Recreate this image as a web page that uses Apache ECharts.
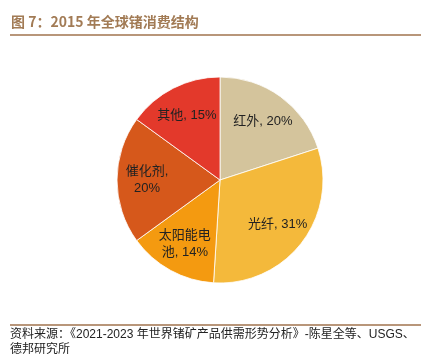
<!DOCTYPE html>
<html>
<head>
<meta charset="utf-8">
<script src="https://cdn.jsdelivr.net/npm/echarts@6/dist/echarts.min.js"></script>
<style>html,body{margin:0;padding:0;background:#fff}#c{width:428px;height:357px}</style>
</head>
<body>
<div id="c"></div>
<script>
const categories = ['红外', '光纤', '太阳能电池', '催化剂', '其他'];
const values = [20, 31, 14, 20, 15];
const colors = ['#D4C49C', '#F4B93B', '#F49A10', '#D6581B', '#E3392B'];
// characters after which the label wraps (0 = no wrap)
const wrapAt = [0, 0, 4, 3, 0];
const titleText = '图 7：2015 年全球锗消费结构';
const sourceLine1 = '资料来源：《2021-2023 年世界锗矿产品供需形势分析》-陈星全等、USGS、';
const sourceLine2 = '德邦研究所';

const data = categories.map((n, i) => ({ name: n, value: values[i], itemStyle: { color: colors[i] } }));

function fmt(p) {
  const i = p.dataIndex;
  const n = categories[i];
  const w = wrapAt[i];
  if (w === 0) return n + ', ' + values[i] + '%';
  if (w >= n.length) return n + ',\n' + values[i] + '%';
  return n.slice(0, w) + '\n' + n.slice(w) + ', ' + values[i] + '%';
}

const chart = echarts.init(document.getElementById('c'), null, { renderer: 'canvas' });
chart.setOption({
  animation: false,
  backgroundColor: '#fff',
  graphic: [
    { type: 'text', left: 11, top: 15, style: { text: titleText, fill: '#A27B55', font: 'bold 14px "Noto Sans CJK SC", "Liberation Sans", sans-serif' } },
    { type: 'rect', shape: { x: 10, y: 34, width: 411, height: 2 }, style: { fill: '#B8967A' } },
    { type: 'rect', shape: { x: 10, y: 324, width: 411, height: 2 }, style: { fill: '#B8967A' } },
    { type: 'text', left: 10, top: 327, style: { text: sourceLine1 + '\n' + sourceLine2, fill: '#222', lineHeight: 15, font: '12px "Liberation Sans", "Noto Sans CJK SC", sans-serif' } }
  ],
  series: [
    {
      type: 'pie',
      center: [220, 180],
      radius: [0, 103],
      startAngle: 90,
      clockwise: true,
      silent: true,
      data: data,
      label: { show: false },
      labelLine: { show: false },
      itemStyle: { borderColor: '#fff', borderWidth: 0.8 }
    },
    {
      type: 'pie',
      center: [220, 180],
      radius: [40, 100],
      startAngle: 90,
      clockwise: true,
      silent: true,
      data: data.map(d => ({ name: d.name, value: d.value, itemStyle: { color: 'rgba(0,0,0,0)' } })),
      itemStyle: { borderWidth: 0 },
      label: {
        show: true,
        position: 'inside',
        formatter: fmt,
        color: '#222',
        fontSize: 13,
        lineHeight: 17,
        fontFamily: '"Liberation Sans", "Noto Sans CJK SC", sans-serif'
      },
      labelLine: { show: false }
    }
  ]
});
</script>
</body>
</html>
